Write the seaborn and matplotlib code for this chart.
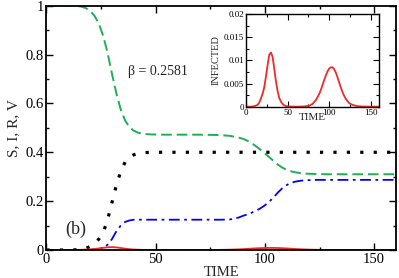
import numpy as np
import pandas as pd
import matplotlib
matplotlib.use("Agg")
import matplotlib.pyplot as plt
import seaborn as sns
from matplotlib.ticker import MultipleLocator

sns.set_style("ticks")
plt.rcParams['font.family'] = ['Liberation Serif', 'DejaVu Serif']
plt.rcParams['mathtext.fontset'] = 'stix'

# ---- data ----
time = [0, 5, 10, 14, 16, 18, 20, 22, 24, 26, 28, 30, 32, 34, 36, 38, 40, 42, 44, 46, 48,
        52, 60, 70, 76, 80, 84, 88, 90, 92, 94, 96, 98, 100, 102, 104, 106, 108, 110, 112,
        114, 116, 118, 120, 124, 128, 134, 140, 150, 160]

susceptible = [1.0, 1.0, 1.0, 0.999, 0.996, 0.99, 0.978, 0.958, 0.925, 0.875, 0.805, 0.72,
               0.64, 0.575, 0.53, 0.503, 0.488, 0.48, 0.476, 0.474, 0.473,
               0.472, 0.472, 0.472, 0.471, 0.47, 0.467, 0.46, 0.455, 0.447, 0.437, 0.424,
               0.41, 0.395, 0.38, 0.364, 0.349, 0.337, 0.328, 0.322,
               0.318, 0.315, 0.313, 0.312, 0.311, 0.31, 0.31, 0.31, 0.31, 0.31]

infected = [0.0, 0.0, 0.0001, 0.0004, 0.0009, 0.0018, 0.0028, 0.0042, 0.0065, 0.009, 0.0112,
            0.0117, 0.0108, 0.0082, 0.0055, 0.0034, 0.0019, 0.0011, 0.0006, 0.0003, 0.00015,
            0.00005, 0.0, 0.00005, 0.0002, 0.0006, 0.0014, 0.0027, 0.0036, 0.0046, 0.0057,
            0.0067, 0.0076, 0.0082, 0.0085, 0.0085, 0.0081, 0.0074, 0.0064, 0.0053,
            0.0042, 0.0032, 0.0024, 0.0017, 0.0008, 0.0004, 0.00012, 0.00004, 0.0, 0.0]

recovered = [0.0, 0.0, 0.0, 0.001, 0.003, 0.007, 0.014, 0.027, 0.045, 0.072, 0.125, 0.195,
             0.265, 0.322, 0.36, 0.38, 0.39, 0.395, 0.398, 0.399, 0.4,
             0.4, 0.4, 0.4, 0.4, 0.4, 0.4, 0.4, 0.4, 0.4, 0.4, 0.4, 0.4, 0.4, 0.4, 0.4,
             0.4, 0.4, 0.4, 0.4, 0.4, 0.4, 0.4, 0.4, 0.4, 0.4, 0.4, 0.4, 0.4, 0.4]

vaccinated = [0.0, 0.0, 0.0, 0.0, 0.0, 0.0, 0.0, 0.002, 0.004, 0.008, 0.022, 0.045,
              0.077, 0.1, 0.115, 0.121, 0.124, 0.124, 0.124, 0.124, 0.124,
              0.124, 0.124, 0.124, 0.124, 0.124, 0.125, 0.133, 0.14, 0.146, 0.153, 0.161,
              0.171, 0.183, 0.198, 0.216, 0.236, 0.253, 0.266, 0.275,
              0.28, 0.283, 0.285, 0.286, 0.287, 0.287, 0.287, 0.287, 0.287, 0.287]

main_xticks = [0, 50, 100, 150]
main_yticks = [0, 0.2, 0.4, 0.6, 0.8, 1.0]
main_ylabels = ["0", "0.2", "0.4", "0.6", "0.8", "1"]
inset_yticks = [0, 0.005, 0.01, 0.015, 0.02]
inset_ylabels = ["0", "0.005", "0.01", "0.015", "0.02"]

df = pd.DataFrame({"t": time, "S": susceptible, "I": infected,
                   "R": recovered, "V": vaccinated})

green = "#1fae55"
blue = "#0000ff"
red = "#f02a2a"

fig = plt.figure(figsize=(3.99, 2.78), dpi=100)
ax = fig.add_axes([0.1165, 0.1007, 0.876, 0.879])

sns.lineplot(data=df, x="t", y="S", ax=ax, color=green, lw=1.4,
             linestyle=(0, (5.5, 2.5)))
sns.lineplot(data=df, x="t", y="V", ax=ax, color=blue, lw=1.3,
             linestyle=(0, (6, 2.5, 1.5, 2.5)))
sns.lineplot(data=df, x="t", y="R", ax=ax, color="black", lw=2.3,
             linestyle=(0, (1, 3.2)), dash_capstyle="butt")
sns.lineplot(data=df, x="t", y="I", ax=ax, color=red, lw=1.3)

ax.set_xlim(0, 160)
ax.set_ylim(0, 1)
ax.set_xticks(main_xticks)
ax.set_xticklabels([str(v) for v in main_xticks])
ax.set_yticks(main_yticks)
ax.set_yticklabels(main_ylabels)
ax.xaxis.set_minor_locator(MultipleLocator(25))
ax.yaxis.set_minor_locator(MultipleLocator(0.1))
ax.tick_params(which="both", direction="in", top=True, right=True, labelsize=10.5,
               width=1.0, colors="black")
ax.tick_params(which="major", length=5, pad=2)
ax.tick_params(which="minor", length=2.5)
for s in ax.spines.values():
    s.set_linewidth(1.3)
    s.set_color("black")
ax.set_xlabel("TIME", fontsize=10.5, labelpad=0)
ax.set_ylabel("S, I, R, V", fontsize=11, labelpad=4)

ax.text(37.5, 0.73, "β = 0.2581", fontsize=10, va="center", ha="left")
ax.text(8.5, 0.085, "(b)", fontsize=13, va="center", ha="left")

# inset
axi = fig.add_axes([0.6165, 0.6162, 0.3333, 0.3335])
sns.lineplot(data=df, x="t", y="I", ax=axi, color=red, lw=1.3)
axi.set_xlim(0, 160)
axi.set_ylim(0, 0.02)
axi.set_xticks(main_xticks)
axi.set_xticklabels([str(v) for v in main_xticks])
axi.set_yticks(inset_yticks)
axi.set_yticklabels(inset_ylabels)
axi.xaxis.set_minor_locator(MultipleLocator(25))
axi.yaxis.set_minor_locator(MultipleLocator(0.0025))
axi.tick_params(which="both", direction="in", top=True, right=True, labelsize=6.5,
                width=0.8, colors="black")
axi.tick_params(which="major", length=4, pad=1.5)
axi.tick_params(which="minor", length=2)
for s in axi.spines.values():
    s.set_linewidth(1.0)
    s.set_color("black")
axi.set_xlabel("TIME", fontsize=8, labelpad=-3)
axi.set_ylabel("INFECTED", fontsize=7.5, labelpad=2)

fig.savefig("out.png", dpi=100)
